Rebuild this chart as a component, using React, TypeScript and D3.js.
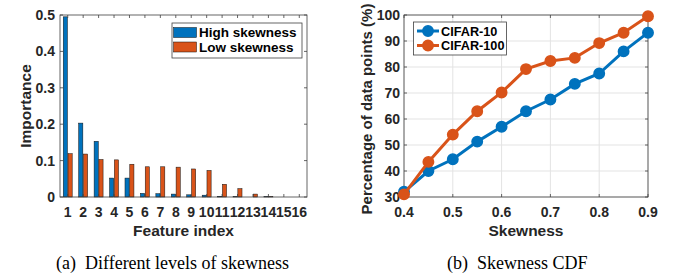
import React from "react";
import * as d3 from "d3";

const features = d3.range(1, 17);
const highSkew = [0.495, 0.203, 0.153, 0.052, 0.052, 0.01, 0.009, 0.008, 0.006, 0.005, 0.002, 0.001, 0.0, 0.001, 0.0, 0.0];
const lowSkew = [0.119, 0.118, 0.103, 0.102, 0.09, 0.083, 0.083, 0.082, 0.077, 0.073, 0.035, 0.023, 0.008, 0.001, 0.0, 0.0];
const importanceTicks = [0, 0.1, 0.2, 0.3, 0.4, 0.5];

const skewness = [0.4, 0.45, 0.5, 0.55, 0.6, 0.65, 0.7, 0.75, 0.8, 0.85, 0.9];
const cifar10 = [32, 40, 44.5, 51.3, 57, 63, 67.5, 73.5, 77.5, 86, 93.2];
const cifar100 = [31, 43.5, 54, 63, 70.2, 79.2, 82.3, 83.5, 89.2, 93.2, 99.5];
const skewTicks = [0.4, 0.5, 0.6, 0.7, 0.8, 0.9];
const pctTicks = [30, 40, 50, 60, 70, 80, 90, 100];

const BLUE = "#0072BD";
const ORANGE = "#D95319";
const TXT = "#262626";
const AX = "#404040";
const FONT = "'Liberation Sans', Arial, sans-serif";
const SERIF = "'Liberation Serif', 'DejaVu Serif', serif";
const TICK = 14;
const TITLE = 15.5;

function App() {
  // Left chart
  const L = { x0: 60, x1: 307, y0: 15, y1: 197 };
  const xL = d3.scaleLinear().domain([0.5, 16.5]).range([L.x0, L.x1]);
  const yL = d3.scaleLinear().domain([0, 0.5]).range([L.y1, L.y0]);
  const bw = 0.27;
  const gap = 0.02;

  // Right chart
  const R = { x0: 404, x1: 648, y0: 15, y1: 197 };
  const xR = d3.scaleLinear().domain([0.4, 0.9]).range([R.x0, R.x1]);
  const yR = d3.scaleLinear().domain([30, 100]).range([R.y1, R.y0]);
  const line = d3
    .line<number>()
    .x((_, i) => xR(skewness[i]))
    .y((d) => yR(d));

  const tk = 3;

  return (
    <div style={{ position: "absolute", left: 0, top: 0 }}>
      <svg width={683} height={275} style={{ display: "block", background: "#fff" }}>
        {/* ===== Left chart ===== */}
        <g>
          {features.map((f, i) => (
            <g key={f}>
              <rect
                x={xL(f - gap - bw)}
                y={yL(highSkew[i])}
                width={xL(f - gap) - xL(f - gap - bw)}
                height={yL(0) - yL(highSkew[i])}
                fill={BLUE}
                stroke="#111"
                strokeWidth={0.5}
              />
              <rect
                x={xL(f + gap)}
                y={yL(lowSkew[i])}
                width={xL(f + gap + bw) - xL(f + gap)}
                height={yL(0) - yL(lowSkew[i])}
                fill={ORANGE}
                stroke="#111"
                strokeWidth={0.5}
              />
            </g>
          ))}
          <rect x={L.x0} y={L.y0} width={L.x1 - L.x0} height={L.y1 - L.y0} fill="none" stroke={AX} strokeWidth={0.8} />
          {importanceTicks.map((t) => (
            <g key={t}>
              <line x1={L.x0} x2={L.x0 + tk} y1={yL(t)} y2={yL(t)} stroke={AX} strokeWidth={0.8} />
              <line x1={L.x1} x2={L.x1 - tk} y1={yL(t)} y2={yL(t)} stroke={AX} strokeWidth={0.8} />
              <text x={L.x0 - 5} y={yL(t)} dy="0.36em" textAnchor="end" fontFamily={FONT} fontWeight="bold" fontSize={TICK} fill={TXT}>
                {t === 0 ? "0" : t.toFixed(1)}
              </text>
            </g>
          ))}
          {features.map((f) => (
            <g key={f}>
              <line x1={xL(f)} x2={xL(f)} y1={L.y1} y2={L.y1 - tk} stroke={AX} strokeWidth={0.8} />
              <line x1={xL(f)} x2={xL(f)} y1={L.y0} y2={L.y0 + tk} stroke={AX} strokeWidth={0.8} />
              <text x={xL(f)} y={216.5} textAnchor="middle" fontFamily={FONT} fontWeight="bold" fontSize={TICK} fill={TXT}>
                {f}
              </text>
            </g>
          ))}
          <text x={(L.x0 + L.x1) / 2} y={236} textAnchor="middle" fontFamily={FONT} fontWeight="bold" fontSize={TITLE} fill={TXT}>
            Feature index
          </text>
          <text
            transform={`translate(31,${(L.y0 + L.y1) / 2}) rotate(-90)`}
            textAnchor="middle"
            fontFamily={FONT}
            fontWeight="bold"
            fontSize={TITLE}
            fill={TXT}
          >
            Importance
          </text>
          {/* legend */}
          <rect x={172} y={23} width={130} height={35} fill="#fff" stroke={AX} strokeWidth={0.8} />
          <rect x={173.5} y={27.5} width={23} height={10} fill={BLUE} stroke="#111" strokeWidth={0.5} />
          <rect x={173.5} y={42} width={23} height={10} fill={ORANGE} stroke="#111" strokeWidth={0.5} />
          <text x={199} y={32.5} dy="0.36em" fontFamily={FONT} fontWeight="bold" fontSize={13.5} fill="#000">
            High skewness
          </text>
          <text x={199} y={47} dy="0.36em" fontFamily={FONT} fontWeight="bold" fontSize={13.5} fill="#000">
            Low skewness
          </text>
        </g>

        {/* ===== Right chart ===== */}
        <g>
          {skewTicks.map((t) => (
            <line key={"gx" + t} x1={xR(t)} x2={xR(t)} y1={R.y0} y2={R.y1} stroke="#e3e3e3" strokeWidth={1} />
          ))}
          {pctTicks.map((t) => (
            <line key={"gy" + t} x1={R.x0} x2={R.x1} y1={yR(t)} y2={yR(t)} stroke="#e3e3e3" strokeWidth={1} />
          ))}
          <rect x={R.x0} y={R.y0} width={R.x1 - R.x0} height={R.y1 - R.y0} fill="none" stroke={AX} strokeWidth={0.8} />
          {pctTicks.map((t) => (
            <g key={t}>
              <line x1={R.x0} x2={R.x0 + tk} y1={yR(t)} y2={yR(t)} stroke={AX} strokeWidth={0.8} />
              <line x1={R.x1} x2={R.x1 - tk} y1={yR(t)} y2={yR(t)} stroke={AX} strokeWidth={0.8} />
              <text x={R.x0 - 4} y={yR(t)} dy="0.36em" textAnchor="end" fontFamily={FONT} fontWeight="bold" fontSize={TICK} fill={TXT}>
                {t}
              </text>
            </g>
          ))}
          {skewTicks.map((t) => (
            <g key={t}>
              <line x1={xR(t)} x2={xR(t)} y1={R.y1} y2={R.y1 - tk} stroke={AX} strokeWidth={0.8} />
              <line x1={xR(t)} x2={xR(t)} y1={R.y0} y2={R.y0 + tk} stroke={AX} strokeWidth={0.8} />
              <text x={xR(t)} y={216.5} textAnchor="middle" fontFamily={FONT} fontWeight="bold" fontSize={TICK} fill={TXT}>
                {t.toFixed(1)}
              </text>
            </g>
          ))}
          <path d={line(cifar10) || ""} fill="none" stroke={BLUE} strokeWidth={3} />
          {cifar10.map((v, i) => (
            <circle key={"a" + i} cx={xR(skewness[i])} cy={yR(v)} r={5.2} fill={BLUE} stroke={BLUE} strokeWidth={1.5} />
          ))}
          <path d={line(cifar100) || ""} fill="none" stroke={ORANGE} strokeWidth={3} />
          {cifar100.map((v, i) => (
            <circle key={"b" + i} cx={xR(skewness[i])} cy={yR(v)} r={5.2} fill={ORANGE} stroke={ORANGE} strokeWidth={1.5} />
          ))}
          <text x={(R.x0 + R.x1) / 2} y={236} textAnchor="middle" fontFamily={FONT} fontWeight="bold" fontSize={TITLE} fill={TXT}>
            Skewness
          </text>
          <text
            transform={`translate(372,109) rotate(-90)`}
            textAnchor="middle"
            fontFamily={FONT}
            fontWeight="bold"
            fontSize={15}
            fill={TXT}
          >
            Percentage of data points (%)
          </text>
          {/* legend */}
          <rect x={413.5} y={22} width={93} height={33} fill="#fff" stroke={AX} strokeWidth={0.8} />
          <line x1={417} x2={439} y1={31} y2={31} stroke={BLUE} strokeWidth={3} />
          <circle cx={428} cy={31} r={5.2} fill={BLUE} stroke={BLUE} strokeWidth={1.5} />
          <line x1={417} x2={439} y1={45.5} y2={45.5} stroke={ORANGE} strokeWidth={3} />
          <circle cx={428} cy={45.5} r={5.2} fill={ORANGE} stroke={ORANGE} strokeWidth={1.5} />
          <text x={441} y={31} dy="0.36em" fontFamily={FONT} fontWeight="bold" fontSize={12.7} fill="#000">
            CIFAR-10
          </text>
          <text x={441} y={45.5} dy="0.36em" fontFamily={FONT} fontWeight="bold" fontSize={12.7} fill="#000">
            CIFAR-100
          </text>
        </g>

        {/* captions */}
        <text x={56} y={269} fontFamily={SERIF} fontSize={18} fill="#000" style={{ whiteSpace: "pre" }}>
          {"(a)  Different levels of skewness"}
        </text>
        <text x={447} y={269} fontFamily={SERIF} fontSize={18} fill="#000" style={{ whiteSpace: "pre" }}>
          {"(b)  Skewness CDF"}
        </text>
      </svg>
    </div>
  );
}

export default App;
